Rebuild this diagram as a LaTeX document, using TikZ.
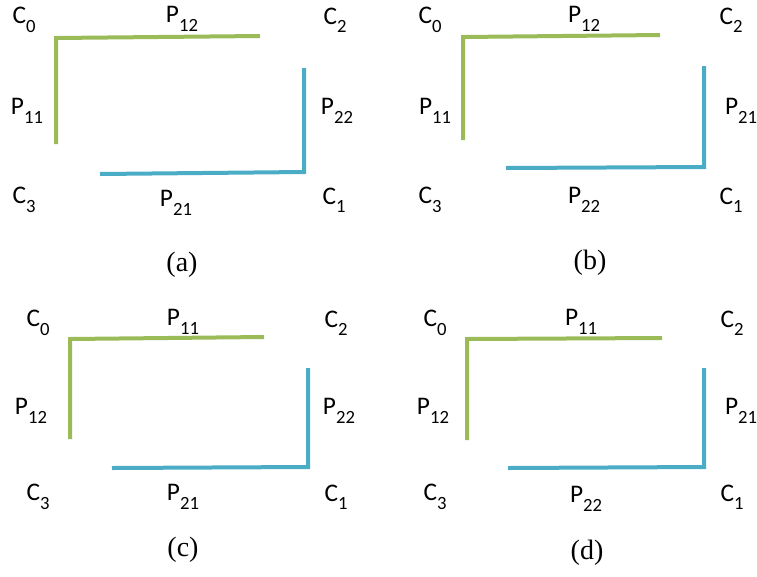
\documentclass[tikz,border=0pt]{standalone}
\usepackage{fontspec}
\setmainfont{Liberation Serif}
\newfontfamily\calibri{Carlito}
\definecolor{olivegreen}{RGB}{155,187,89}
\definecolor{aquablue}{RGB}{75,172,198}
\newcommand{\lblsub}[2]{#1\raisebox{-0.33em}{\fontsize{14}{15}\selectfont #2}}
\tikzset{
  lbl/.style={font=\calibri\fontsize{19}{21}\selectfont,inner sep=0pt},
  captext/.style={font=\fontsize{21}{24}\selectfont,inner sep=0pt},
  gline/.style={line width=3pt,olivegreen},
  bline/.style={line width=3pt,aquablue}
}
\begin{document}
\begin{tikzpicture}[x=0.75pt,y=-0.75pt]
  \useasboundingbox (0,0) rectangle (757,576);
  % (a)
  \node[lbl] (a-C0) at (24,20) {\lblsub{C}{0}};
  \node[lbl] (a-P12) at (182,19) {\lblsub{P}{12}};
  \node[lbl] (a-C2) at (335,20) {\lblsub{C}{2}};
  \node[lbl] (a-P11) at (27,111) {\lblsub{P}{11}};
  \node[lbl] (a-P22) at (337,111) {\lblsub{P}{22}};
  \node[lbl] (a-C3) at (24,200) {\lblsub{C}{3}};
  \node[lbl] (a-P21) at (176,203) {\lblsub{P}{21}};
  \node[lbl] (a-C1) at (334,200) {\lblsub{C}{1}};
  \node[captext] (a-cap) at (182,265) {(a)};
  \coordinate (a-g1) at (56,144);
  \coordinate (a-g0) at (56,38);
  \coordinate (a-g2) at (260,36);
  \coordinate (a-b1) at (304,68);
  \coordinate (a-b0) at (304,172);
  \coordinate (a-b2) at (100,174);
  \draw[gline] (a-g1) -- (a-g0) -- (a-g2);
  \draw[bline] (a-b1) -- (a-b0) -- (a-b2);
  % (b)
  \node[lbl] (b-C0) at (430,20) {\lblsub{C}{0}};
  \node[lbl] (b-P12) at (584,19) {\lblsub{P}{12}};
  \node[lbl] (b-C2) at (731,20) {\lblsub{C}{2}};
  \node[lbl] (b-P11) at (435,111) {\lblsub{P}{11}};
  \node[lbl] (b-P21) at (741,111) {\lblsub{P}{21}};
  \node[lbl] (b-C3) at (430,200) {\lblsub{C}{3}};
  \node[lbl] (b-P22) at (584,200) {\lblsub{P}{22}};
  \node[lbl] (b-C1) at (731,200) {\lblsub{C}{1}};
  \node[captext] (b-cap) at (590,263) {(b)};
  \coordinate (b-g1) at (463,140);
  \coordinate (b-g0) at (463,37);
  \coordinate (b-g2) at (660,35);
  \coordinate (b-b1) at (704,66);
  \coordinate (b-b0) at (704,167);
  \coordinate (b-b2) at (506,168);
  \draw[gline] (b-g1) -- (b-g0) -- (b-g2);
  \draw[bline] (b-b1) -- (b-b0) -- (b-b2);
  % (c)
  \node[lbl] (c-C0) at (38,323) {\lblsub{C}{0}};
  \node[lbl] (c-P11) at (183,322) {\lblsub{P}{11}};
  \node[lbl] (c-C2) at (336,323) {\lblsub{C}{2}};
  \node[lbl] (c-P12) at (31,411) {\lblsub{P}{12}};
  \node[lbl] (c-P22) at (339,411) {\lblsub{P}{22}};
  \node[lbl] (c-C3) at (38,497) {\lblsub{C}{3}};
  \node[lbl] (c-P21) at (183,497) {\lblsub{P}{21}};
  \node[lbl] (c-C1) at (336,497) {\lblsub{C}{1}};
  \node[captext] (c-cap) at (183,550) {(c)};
  \coordinate (c-g1) at (70,439);
  \coordinate (c-g0) at (70,339);
  \coordinate (c-g2) at (264,337);
  \coordinate (c-b1) at (308,368);
  \coordinate (c-b0) at (308,467);
  \coordinate (c-b2) at (112,468);
  \draw[gline] (c-g1) -- (c-g0) -- (c-g2);
  \draw[bline] (c-b1) -- (c-b0) -- (c-b2);
  % (d)
  \node[lbl] (d-C0) at (435,323) {\lblsub{C}{0}};
  \node[lbl] (d-P11) at (581,322) {\lblsub{P}{11}};
  \node[lbl] (d-C2) at (732,323) {\lblsub{C}{2}};
  \node[lbl] (d-P12) at (433,411) {\lblsub{P}{12}};
  \node[lbl] (d-P21) at (741,411) {\lblsub{P}{21}};
  \node[lbl] (d-C3) at (435,497) {\lblsub{C}{3}};
  \node[lbl] (d-P22) at (586,499) {\lblsub{P}{22}};
  \node[lbl] (d-C1) at (732,497) {\lblsub{C}{1}};
  \node[captext] (d-cap) at (587,553) {(d)};
  \coordinate (d-g1) at (467,440);
  \coordinate (d-g0) at (467,339);
  \coordinate (d-g2) at (662,338);
  \coordinate (d-b1) at (704,368);
  \coordinate (d-b0) at (704,467);
  \coordinate (d-b2) at (508,468);
  \draw[gline] (d-g1) -- (d-g0) -- (d-g2);
  \draw[bline] (d-b1) -- (d-b0) -- (d-b2);
\end{tikzpicture}
\end{document}
